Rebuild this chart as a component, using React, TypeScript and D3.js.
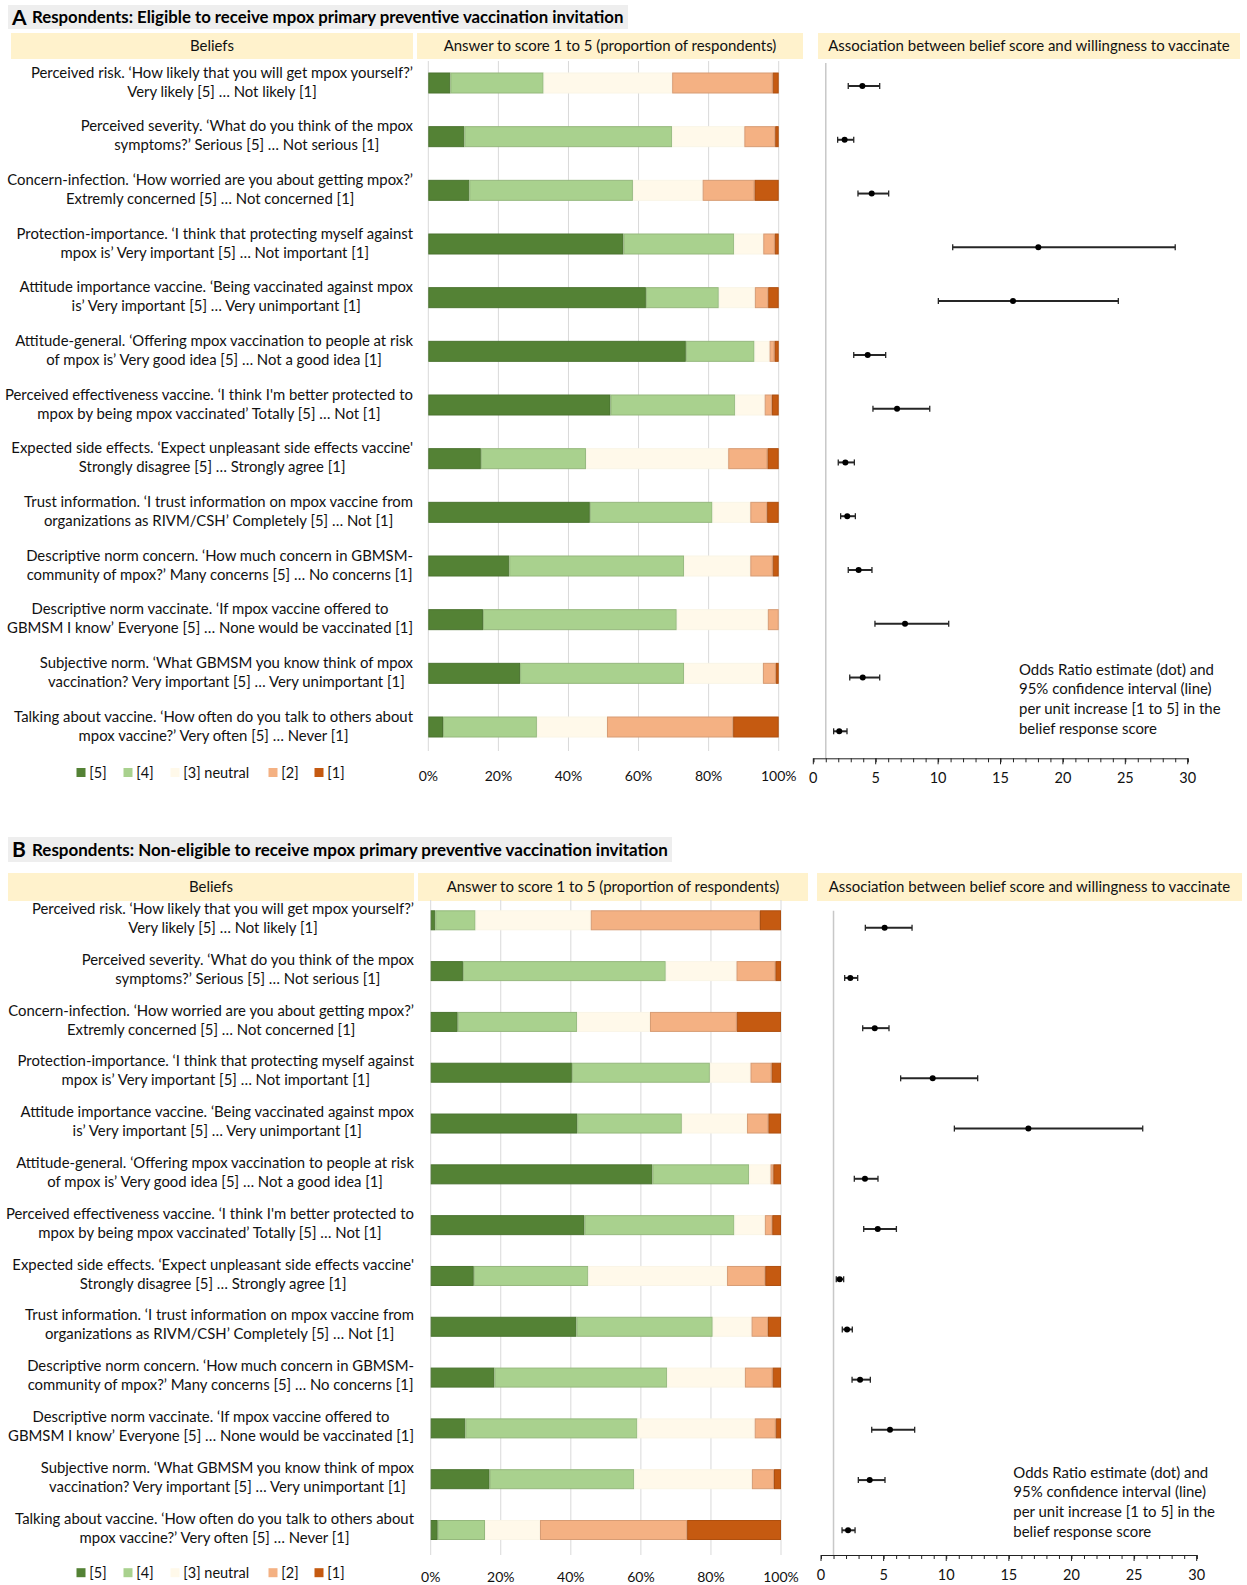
import { useEffect, useRef } from 'react';
import * as d3 from 'd3';

const FONT = 'Lato, "Noto Sans", sans-serif';

// belief statements, two lines each
const beliefLabels: [string, string][] = [
  ['Perceived risk. ‘How likely that you will get mpox yourself?’', 'Very likely [5] … Not likely [1]'],
  ['Perceived severity. ‘What do you think of the mpox', 'symptoms?’ Serious [5] … Not serious [1]'],
  ['Concern-infection. ‘How worried are you about getting mpox?’', 'Extremly concerned [5] … Not concerned [1]'],
  ['Protection-importance. ‘I think that protecting myself against', 'mpox is’ Very important [5] … Not important [1]'],
  ['Attitude importance vaccine. ‘Being vaccinated against mpox', 'is’ Very important [5] … Very unimportant [1]'],
  ['Attitude-general. ‘Offering mpox vaccination to people at risk', 'of mpox is’ Very good idea [5] … Not a good idea [1]'],
  ['Perceived effectiveness vaccine. ‘I think I\'m better protected to', 'mpox by being mpox vaccinated’ Totally [5] … Not [1]'],
  ['Expected side effects. ‘Expect unpleasant side effects vaccine\'', 'Strongly disagree [5] … Strongly agree [1]'],
  ['Trust information. ‘I trust information on mpox vaccine from', 'organizations as RIVM/CSH’ Completely [5] … Not [1]'],
  ['Descriptive norm concern. ‘How much concern in GBMSM-', 'community of mpox?’ Many concerns [5] … No concerns [1]'],
  ['Descriptive norm vaccinate. ‘If mpox vaccine offered to', 'GBMSM I know’ Everyone [5] … None would be vaccinated [1]'],
  ['Subjective norm. ‘What GBMSM you know think of mpox', 'vaccination? Very important [5] … Very unimportant [1]'],
  ['Talking about vaccine. ‘How often do you talk to others about', 'mpox vaccine?’ Very often [5] … Never [1]'],
];

const scoreNames = ['[5]', '[4]', '[3] neutral', '[2]', '[1]'];
const scoreColors = ['#548235', '#a9d18e', '#fff9ea', '#f4b183', '#c55a11'];
const pctTicks = [0, 20, 40, 60, 80, 100];
const orTicks = [0, 5, 10, 15, 20, 25, 30];

// A: eligible respondents, % per score
const eligible5 = [6.3, 10.3, 11.7, 55.7, 62.1, 73.5, 52.0, 15.0, 46.1, 23.1, 15.6, 26.2, 4.2];
const eligible4 = [26.6, 59.3, 46.7, 31.6, 20.8, 19.6, 35.6, 30.0, 35.0, 49.9, 55.3, 46.8, 26.8];
const eligible3 = [36.7, 20.6, 19.9, 8.3, 10.3, 4.3, 8.4, 40.6, 10.8, 18.9, 26.0, 22.5, 20.0];
const eligible2 = [28.7, 8.8, 14.8, 3.3, 3.8, 1.4, 2.1, 11.2, 4.8, 6.4, 3.1, 3.7, 36.0];
const eligible1 = [1.7, 1.0, 6.9, 1.1, 3.0, 1.2, 1.9, 3.2, 3.3, 1.7, 0.0, 0.8, 13.0];

// A: odds ratios
const eligibleOR = [3.93, 2.51, 4.68, 18.03, 16.0, 4.36, 6.71, 2.57, 2.72, 3.63, 7.35, 3.96, 2.08];
const eligibleLo = [2.8, 1.95, 3.58, 11.17, 10.02, 3.24, 4.78, 2.0, 2.19, 2.8, 4.94, 2.92, 1.63];
const eligibleHi = [5.32, 3.24, 6.04, 29.0, 24.44, 5.8, 9.33, 3.29, 3.37, 4.7, 10.85, 5.32, 2.7];

// B: non-eligible respondents, % per score
const nonEligible5 = [1.3, 9.2, 7.7, 40.3, 41.8, 63.3, 43.9, 12.3, 41.6, 18.2, 9.9, 16.8, 2.0];
const nonEligible4 = [11.5, 57.9, 34.1, 39.4, 29.9, 27.6, 42.8, 32.7, 38.9, 49.3, 49.1, 41.3, 13.5];
const nonEligible3 = [32.9, 20.2, 20.8, 11.6, 18.6, 6.1, 8.7, 39.6, 11.1, 22.2, 33.5, 33.6, 15.7];
const nonEligible2 = [48.3, 11.1, 24.8, 6.0, 6.1, 0.8, 2.1, 10.9, 4.7, 7.9, 6.0, 6.3, 42.0];
const nonEligible1 = [6.0, 1.6, 12.6, 2.7, 3.6, 2.2, 2.5, 4.5, 3.7, 2.4, 1.5, 2.0, 26.8];

// B: odds ratios
const nonEligibleOR = [5.08, 2.34, 4.29, 8.92, 16.56, 3.51, 4.53, 1.49, 2.08, 3.12, 5.51, 3.89, 2.16];
const nonEligibleLo = [3.54, 1.89, 3.33, 6.36, 10.65, 2.66, 3.41, 1.22, 1.7, 2.48, 4.05, 2.98, 1.68];
const nonEligibleHi = [7.27, 2.93, 5.43, 12.51, 25.69, 4.55, 6.02, 1.81, 2.5, 3.94, 7.48, 5.11, 2.72];

const noteLines = [
  'Odds Ratio estimate (dot) and',
  '95% confidence interval (line)',
  'per unit increase [1 to 5] in the',
  'belief response score',
];

interface PanelCfg {
  letter: string;
  title: string;
  scores: number[][];
  or: number[];
  lo: number[];
  hi: number[];
  titleBox: [number, number, number, number];
  headerY: number;
  headerH: number;
  beliefBox: [number, number];
  answerBox: [number, number];
  assocBox: [number, number];
  labelRight: number;
  labelDy: [number, number];
  barX: [number, number];
  barY: [number, number];
  barH: number;
  gridY: [number, number];
  pctLabelY: number;
  orX: [number, number];
  orY: [number, number];
  orLineTop: number;
  axisY: number;
  legendY: number;
  noteX: number;
  noteY: number;
}

const panels: PanelCfg[] = [
  {
    letter: 'A',
    title: 'Respondents: Eligible to receive mpox primary preventive vaccination invitation',
    scores: [eligible5, eligible4, eligible3, eligible2, eligible1],
    or: eligibleOR, lo: eligibleLo, hi: eligibleHi,
    titleBox: [8, 5, 620, 24],
    headerY: 33, headerH: 26,
    beliefBox: [11, 413], answerBox: [417, 803], assocBox: [818, 1240],
    labelRight: 413, labelDy: [-10.5, 8.5],
    barX: [428.3, 778.7], barY: [83, 727], barH: 21,
    gridY: [61, 751], pctLabelY: 776,
    orX: [813.3, 1187.7], orY: [86, 731.3], orLineTop: 63, axisY: 758.3,
    legendY: 772.5,
    noteX: 1019, noteY: 669.3,
  },
  {
    letter: 'B',
    title: 'Respondents: Non-eligible to receive mpox primary preventive vaccination invitation',
    scores: [nonEligible5, nonEligible4, nonEligible3, nonEligible2, nonEligible1],
    or: nonEligibleOR, lo: nonEligibleLo, hi: nonEligibleHi,
    titleBox: [8, 837, 664, 25],
    headerY: 873, headerH: 28,
    beliefBox: [8, 414], answerBox: [418, 808], assocBox: [817, 1242],
    labelRight: 414, labelDy: [-11.5, 7.5],
    barX: [430.7, 781], barY: [920.3, 1530], barH: 20,
    gridY: [900, 1555], pctLabelY: 1577,
    orX: [821, 1196.7], orY: [927.7, 1530.3], orLineTop: 910.7, axisY: 1555,
    legendY: 1572.7,
    noteX: 1013.3, noteY: 1472.3,
  },
];

function fitWidth(sel: d3.Selection<SVGTextElement, unknown, null, undefined>, target: number) {
  const node = sel.node();
  if (!node) return 14;
  const size = parseFloat(sel.attr('font-size'));
  const w = node.getComputedTextLength();
  const next = w > 0 ? (size * target) / w : size;
  sel.attr('font-size', next);
  return next;
}

function drawPanel(svg: d3.Selection<SVGSVGElement, unknown, null, undefined>, p: PanelCfg) {
  const g = svg.append('g');

  // title
  const [tx, ty, tw, th] = p.titleBox;
  g.append('rect').attr('x', tx).attr('y', ty).attr('width', tw).attr('height', th).attr('fill', '#eeeeee');
  g.append('text')
    .attr('x', 12).attr('y', ty + th / 2).attr('dy', '0.36em')
    .attr('font-size', 21).attr('font-weight', 700).attr('fill', '#000')
    .text(p.letter);
  const title = g.append('text')
    .attr('x', 32).attr('y', ty + th / 2).attr('dy', '0.36em')
    .attr('font-size', 16).attr('font-weight', 700).attr('fill', '#000')
    .text(p.title);
  fitWidth(title, tx + tw - 36);

  // header boxes
  const answerLabel = 'Answer to score 1 to 5 (proportion of respondents)';
  let headSize = 14;
  {
    const probe = g.append('text').attr('font-size', 14).text(answerLabel);
    headSize = fitWidth(probe, 333);
    probe.remove();
  }
  const headers: [[number, number], string][] = [
    [p.beliefBox, 'Beliefs'],
    [p.answerBox, answerLabel],
    [p.assocBox, 'Association between belief score and willingness to vaccinate'],
  ];
  headers.forEach(([[x0, x1], label]) => {
    g.append('rect').attr('x', x0).attr('y', p.headerY).attr('width', x1 - x0).attr('height', p.headerH).attr('fill', '#fff2cc');
    g.append('text')
      .attr('x', (x0 + x1) / 2).attr('y', p.headerY + p.headerH / 2).attr('dy', '0.35em')
      .attr('text-anchor', 'middle').attr('font-size', headSize).attr('fill', '#111')
      .text(label);
  });

  const n = beliefLabels.length;
  const idx = d3.range(n);
  const x = d3.scaleLinear().domain([0, 100]).range(p.barX);
  const y = d3.scaleLinear().domain([0, n - 1]).range(p.barY);

  // gridlines
  g.append('g').selectAll('line').data(pctTicks).join('line')
    .attr('x1', d => x(d)).attr('x2', d => x(d))
    .attr('y1', p.gridY[0]).attr('y2', p.gridY[1])
    .attr('stroke', '#d9d9d9').attr('stroke-width', 1);

  // stacked bars
  const rows = idx.map(i => {
    const r: Record<string, number> = { row: i };
    scoreNames.forEach((k, j) => { r[k] = p.scores[j][i]; });
    return r;
  });
  const stack = d3.stack<Record<string, number>>().keys(scoreNames)(rows);
  stack.forEach((layer, j) => {
    const fill = scoreColors[j];
    const edge = d3.color(fill)!.darker(j === 2 ? 0.05 : 0.35).toString();
    const segs = layer.filter(d => d[1] - d[0] > 0);
    g.append('g').selectAll('rect').data(segs).join('rect')
      .attr('x', d => x(d[0]) + 0.5)
      .attr('y', d => y(d.data.row) - p.barH / 2 + 0.5)
      .attr('width', d => Math.max(0, x(d[1]) - x(d[0]) - 1))
      .attr('height', p.barH - 1)
      .attr('fill', fill)
      .attr('stroke', edge)
      .attr('stroke-width', 1);
  });

  // percent tick labels
  g.append('g').selectAll('text').data(pctTicks).join('text')
    .attr('x', d => x(d)).attr('y', p.pctLabelY).attr('dy', '0.35em')
    .attr('text-anchor', 'middle').attr('font-size', 14).attr('fill', '#111')
    .text(d => `${d}%`);

  // belief labels
  const labelG = g.append('g');
  let labelSize = 14;
  {
    const probe = labelG.append('text').attr('font-size', 14).text(beliefLabels[2][0]);
    labelSize = fitWidth(probe, 406);
    probe.remove();
  }
  beliefLabels.forEach((lines, i) => {
    const ts = lines.map((line, k) =>
      labelG.append('text')
        .attr('y', y(i) + p.labelDy[k]).attr('dy', '0.35em')
        .attr('text-anchor', 'middle').attr('font-size', labelSize).attr('fill', '#111')
        .text(line)
    );
    const widths = ts.map(t => (t.node() as SVGTextElement).getComputedTextLength());
    const cx = p.labelRight - d3.max(widths)! / 2;
    ts.forEach(t => t.attr('x', cx));
  });

  // legend
  const legendX = [76.5, 123.5, 170.5, 268.5, 314.5];
  scoreNames.forEach((name, j) => {
    g.append('rect')
      .attr('x', legendX[j]).attr('y', p.legendY - 4.5).attr('width', 9).attr('height', 9)
      .attr('fill', scoreColors[j]);
    g.append('text')
      .attr('x', legendX[j] + 12.8).attr('y', p.legendY).attr('dy', '0.35em')
      .attr('font-size', 14.5).attr('fill', '#111')
      .text(name);
  });

  // forest plot
  const ox = d3.scaleLinear().domain([0, 30]).range(p.orX);
  const oy = d3.scaleLinear().domain([0, n - 1]).range(p.orY);

  g.append('line')
    .attr('x1', ox(1)).attr('x2', ox(1)).attr('y1', p.orLineTop).attr('y2', p.axisY)
    .attr('stroke', '#c8c8c8').attr('stroke-width', 1.5);

  const axisG = g.append('g').attr('transform', `translate(0,${p.axisY})`);
  axisG.call(d3.axisBottom(ox).tickValues(d3.range(0, 31)).tickSize(4).tickFormat(() => ''));
  axisG.select('.domain').attr('stroke', '#222');
  axisG.selectAll('.tick line').attr('stroke', '#222');
  g.append('g').selectAll('line').data(orTicks).join('line')
    .attr('x1', d => ox(d)).attr('x2', d => ox(d))
    .attr('y1', p.axisY).attr('y2', p.axisY + 6)
    .attr('stroke', '#222');
  g.append('g').selectAll('text').data(orTicks).join('text')
    .attr('x', d => ox(d)).attr('y', p.axisY + 20).attr('dy', '0.35em')
    .attr('text-anchor', 'middle').attr('font-size', 14.5).attr('fill', '#111')
    .text(d => d);

  const ci = g.append('g');
  idx.forEach(i => {
    const yy = oy(i);
    ci.append('line')
      .attr('x1', ox(p.lo[i])).attr('x2', ox(p.hi[i])).attr('y1', yy).attr('y2', yy)
      .attr('stroke', '#262626').attr('stroke-width', 2);
    [p.lo[i], p.hi[i]].forEach(v => {
      ci.append('line')
        .attr('x1', ox(v)).attr('x2', ox(v)).attr('y1', yy - 3).attr('y2', yy + 3)
        .attr('stroke', '#262626').attr('stroke-width', 1.3);
    });
    ci.append('circle').attr('cx', ox(p.or[i])).attr('cy', yy).attr('r', 3).attr('fill', '#000');
  });

  // note
  let noteSize = 14.5;
  {
    const probe = g.append('text').attr('font-size', 14.5).text(noteLines[0]);
    noteSize = fitWidth(probe, 195);
    probe.remove();
  }
  noteLines.forEach((line, k) => {
    g.append('text')
      .attr('x', p.noteX).attr('y', p.noteY + k * 19.7).attr('dy', '0.35em')
      .attr('font-size', noteSize).attr('fill', '#111')
      .text(line);
  });
}

export default function App() {
  const svgRef = useRef<SVGSVGElement>(null);

  useEffect(() => {
    if (!svgRef.current) return;
    const svg = d3.select(svgRef.current);
    svg.selectAll('*').remove();
    svg.append('rect').attr('width', 1247).attr('height', 1585).attr('fill', '#fff');
    panels.forEach(p => drawPanel(svg, p));
  }, []);

  return (
    <svg
      ref={svgRef}
      width={1247}
      height={1585}
      style={{ position: 'absolute', left: 0, top: 0, fontFamily: FONT }}
    />
  );
}
